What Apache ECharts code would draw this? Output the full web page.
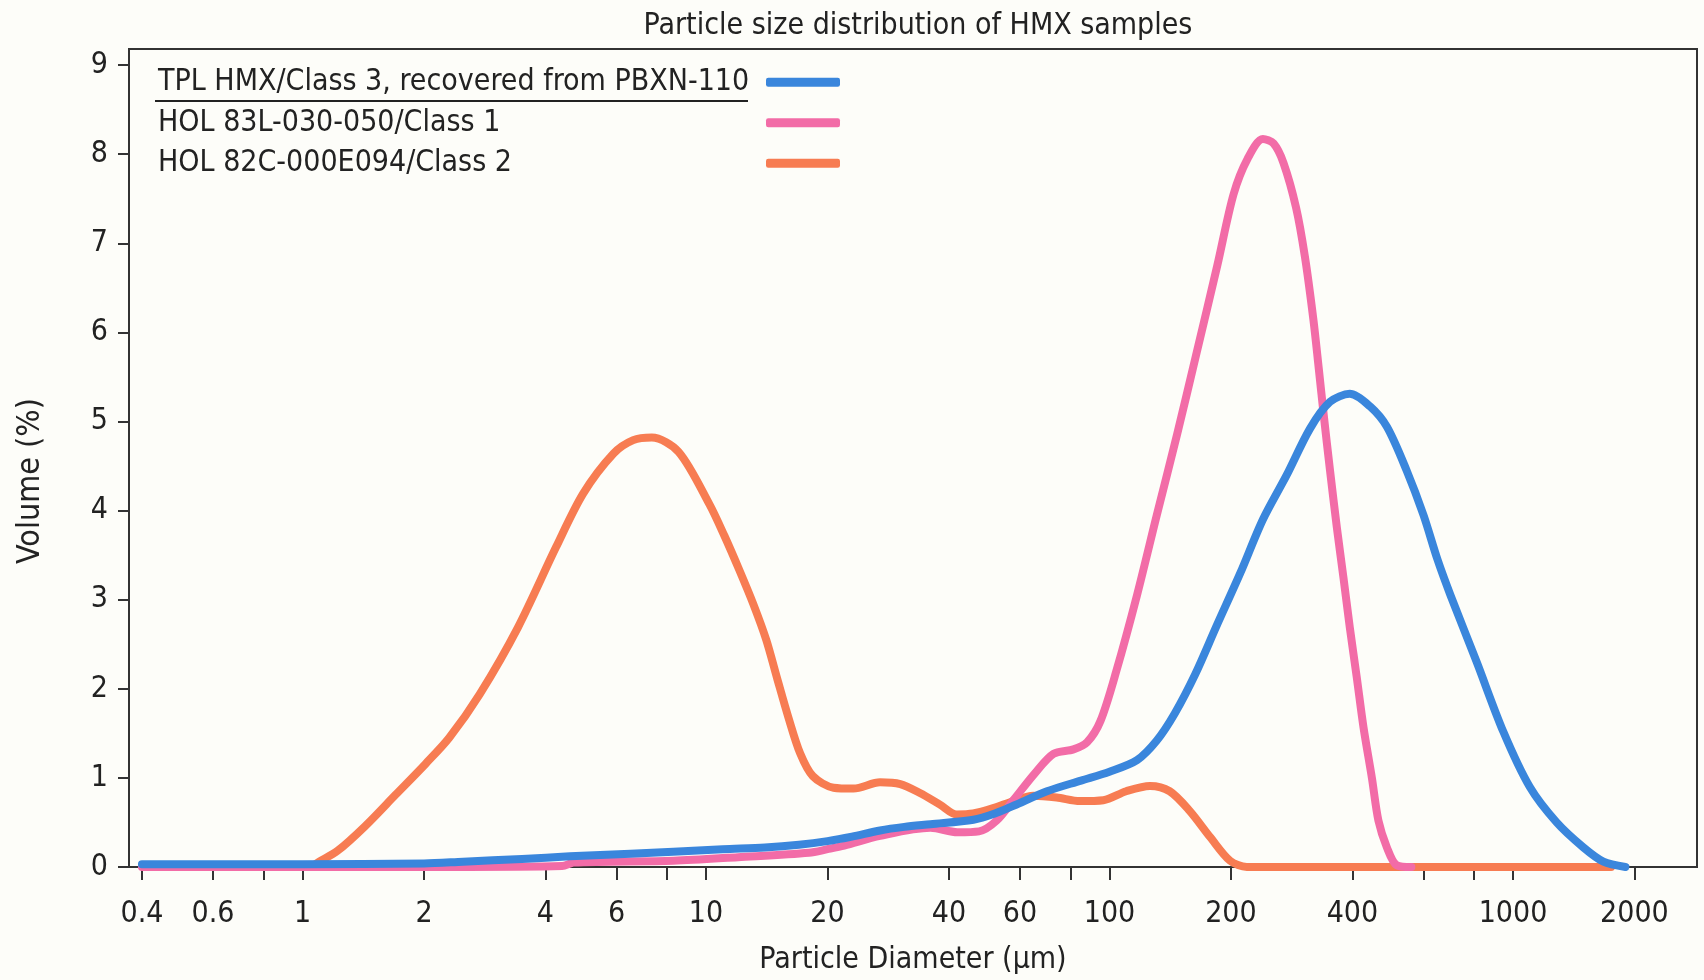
<!DOCTYPE html>
<html>
<head>
<meta charset="utf-8">
<script src="https://cdn.jsdelivr.net/npm/echarts@6/dist/echarts.min.js"></script>
<style>
html,body{margin:0;padding:0;background:#fdfdf9;}
#chart{width:1704px;height:980px;}
</style>
</head>
<body>
<div id="chart"></div>
<script>
// ---- data ----
const chartTitle = 'Particle size distribution of HMX samples';
const xAxisName = 'Particle Diameter (µm)';
const yAxisName = 'Volume (%)';
const seriesNames = [
  'TPL HMX/Class 3, recovered from PBXN-110',
  'HOL 83L-030-050/Class 1',
  'HOL 82C-000E094/Class 2'
];

const class3Size = [0.4, 1, 2, 2.5, 3.5, 4.6, 6.5, 8.3, 11, 14, 17, 20, 23, 27, 31, 36, 46, 52, 58, 70, 85, 100, 117, 131, 145, 163, 184, 211, 240, 275, 314, 352, 394, 442, 487, 545, 600, 650, 700, 813, 946, 1100, 1283, 1494, 1675, 1900];
const class3Volume = [0.03, 0.03, 0.04, 0.06, 0.09, 0.12, 0.15, 0.17, 0.2, 0.22, 0.25, 0.29, 0.34, 0.41, 0.45, 0.48, 0.53, 0.6, 0.69, 0.85, 0.97, 1.07, 1.2, 1.42, 1.72, 2.16, 2.7, 3.3, 3.9, 4.4, 4.92, 5.22, 5.31, 5.17, 4.94, 4.45, 3.95, 3.45, 3.05, 2.3, 1.52, 0.9, 0.5, 0.22, 0.06, 0];

const class1Size = [0.4, 2.3, 4.4, 4.7, 8.3, 12, 18, 20, 22, 27, 36, 42, 47.5, 52.5, 58, 65, 72.6, 81.4, 88, 95, 104, 117, 131, 147, 164, 185, 203, 220, 240, 255, 270, 290, 305, 320, 330, 340, 352, 366, 380, 394, 410, 426, 447, 464, 487, 515, 560];
const class1Volume = [0, 0, 0.01, 0.05, 0.07, 0.11, 0.16, 0.2, 0.24, 0.35, 0.44, 0.39, 0.4, 0.52, 0.76, 1.04, 1.27, 1.32, 1.4, 1.64, 2.2, 3.05, 3.95, 4.85, 5.75, 6.75, 7.55, 7.95, 8.17, 8.12, 7.9, 7.4, 6.85, 6.15, 5.6, 5.05, 4.45, 3.81, 3.25, 2.69, 2.13, 1.57, 1.0, 0.52, 0.22, 0.02, 0];

const class2Size = [1.05, 1.1, 1.22, 1.43, 1.7, 2.02, 2.31, 2.75, 3.42, 4.25, 4.96, 5.9, 6.6, 7.34, 8.55, 10.2, 11.1, 12.1, 13.1, 14.1, 15, 16, 17.1, 18.4, 20.7, 23.2, 27, 30.3, 33.9, 38, 41.8, 45.9, 51.5, 57.8, 64.7, 74, 84.5, 96.6, 110, 126, 141, 158, 178, 199, 219, 1750];
const class2Volume = [0, 0.06, 0.18, 0.46, 0.81, 1.16, 1.45, 1.94, 2.69, 3.59, 4.19, 4.64, 4.79, 4.82, 4.66, 4.07, 3.72, 3.33, 2.95, 2.55, 2.12, 1.68, 1.28, 1.02, 0.89, 0.88, 0.95, 0.93, 0.83, 0.7, 0.59, 0.6, 0.66, 0.74, 0.8, 0.78, 0.74, 0.75, 0.85, 0.91, 0.85, 0.63, 0.33, 0.07, 0, 0];

const xLabelValues = [0.4, 0.6, 1, 2, 4, 6, 10, 20, 40, 60, 100, 200, 400, 1000, 2000];
const xMinorTickValues = [0.8, 8, 80, 600, 800];
const yTickValues = [0, 1, 2, 3, 4, 5, 6, 7, 8, 9];

// ---- chart ----
const FONT = "'DejaVu Sans Condensed', 'Liberation Sans Narrow', sans-serif";
const FS = 30;
const TEXT = '#222';
const colors = ['#3a86dc', '#f26ca7', '#f77c52'];

function zip(xs, ys) { return xs.map((x, i) => [x, ys[i]]); }

const chart = echarts.init(document.getElementById('chart'), null, { renderer: 'canvas' });

const lineBase = {
  type: 'line',
  showSymbol: false,
  smooth: 0.3,
  lineStyle: { width: 8, cap: 'round', join: 'round' }
};

chart.setOption({
  backgroundColor: '#fdfdf9',
  animation: false,
  color: colors,
  title: {
    text: chartTitle,
    left: 913,
    top: 6,
    textAlign: 'center',
    textStyle: { fontFamily: FONT, fontSize: FS, fontWeight: 'normal', color: TEXT }
  },
  legend: {
    orient: 'vertical',
    align: 'right',
    left: 158,
    top: 62,
    padding: 0,
    itemGap: 0,
    itemWidth: 74,
    itemHeight: 9,
    icon: 'roundRect',
    selectedMode: false,
    data: seriesNames,
    formatter: name => '{t|' + name + '}',
    textStyle: {
      color: TEXT,
      fontFamily: FONT,
      fontSize: FS,
      lineHeight: 40.5,
      rich: {
        t: { width: 603, height: 40.5, align: 'left', fontFamily: FONT, fontSize: FS, lineHeight: 40.5, color: TEXT }
      }
    }
  },
  grid: {
    left: 129, right: 7, top: 49, bottom: 113,
    show: true, borderColor: '#333', borderWidth: 2,
    containLabel: false,
    outerBoundsMode: 'none'
  },
  xAxis: {
    type: 'log',
    logBase: 10,
    min: 0.3715,
    max: 2858,
    name: xAxisName,
    nameLocation: 'middle',
    nameGap: 78,
    nameTextStyle: { fontFamily: FONT, fontSize: FS, color: TEXT },
    axisLine: { show: true, lineStyle: { color: '#333', width: 2 } },
    axisTick: {
      show: true, inside: false, length: 13,
      customValues: xLabelValues.concat(xMinorTickValues),
      lineStyle: { color: '#333', width: 2 }
    },
    axisLabel: {
      show: true,
      customValues: xLabelValues,
      margin: 32,
      fontFamily: FONT, fontSize: FS, color: TEXT,
      formatter: v => String(v)
    },
    splitLine: { show: false },
    minorTick: { show: false },
    minorSplitLine: { show: false }
  },
  yAxis: {
    type: 'value',
    min: 0,
    max: 9.18,
    name: yAxisName,
    nameLocation: 'middle',
    nameGap: 82,
    nameRotate: 90,
    nameTextStyle: { fontFamily: FONT, fontSize: 32, color: TEXT, padding: [0, 46, 0, 0] },
    axisLine: { show: true, lineStyle: { color: '#333', width: 2 } },
    axisTick: {
      show: true, inside: false, length: 11,
      customValues: yTickValues,
      lineStyle: { color: '#333', width: 2 }
    },
    axisLabel: {
      show: true,
      customValues: yTickValues,
      margin: 21,
      fontFamily: FONT, fontSize: FS, color: TEXT,
      formatter: v => String(v)
    },
    splitLine: { show: false }
  },
  graphic: [{
    type: 'line',
    shape: { x1: 155, y1: 101, x2: 748, y2: 101 },
    style: { stroke: '#222', lineWidth: 2 },
    silent: true
  }],
  series: [
    Object.assign({}, lineBase, { name: seriesNames[0], z: 4, data: zip(class3Size, class3Volume) }),
    Object.assign({}, lineBase, { name: seriesNames[1], z: 3, data: zip(class1Size, class1Volume) }),
    Object.assign({}, lineBase, { name: seriesNames[2], z: 2, data: zip(class2Size, class2Volume) })
  ]
});
</script>
</body>
</html>
